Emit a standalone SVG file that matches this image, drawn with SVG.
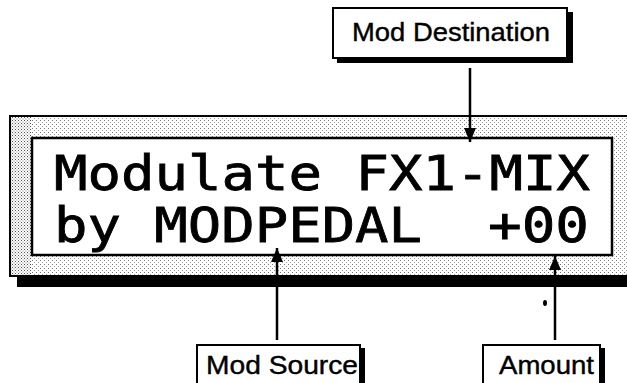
<svg xmlns="http://www.w3.org/2000/svg" width="627" height="383" viewBox="0 0 627 383">
  <defs>
    <pattern id="stip" width="4" height="4" patternUnits="userSpaceOnUse">
      <rect width="4" height="4" fill="#ffffff"/>
      <rect x="0" y="0" width="1" height="1" fill="#777"/>
      <rect x="2" y="2" width="1" height="1" fill="#999"/>
    </pattern>
    <pattern id="stipDense" width="3" height="3" patternUnits="userSpaceOnUse">
      <rect width="3" height="3" fill="#ffffff"/>
      <rect x="0" y="0" width="1" height="1" fill="#555"/>
      <rect x="1.5" y="1.5" width="1" height="1" fill="#777"/>
    </pattern>
    <marker id="ah" viewBox="0 0 14 12" refX="14" refY="6" markerWidth="14" markerHeight="12" markerUnits="userSpaceOnUse" orient="auto">
      <path d="M0,0 L14,6 L0,12 Z" fill="#000"/>
    </marker>
  </defs>
  <style>
    .lcd { font-family: "DejaVu Sans Mono", "Liberation Mono", monospace; font-size: 48px; fill: #000; stroke: #000; stroke-width: 0.8; }
    .lbl { font-family: "Liberation Sans", Arial, sans-serif; font-size: 26px; fill: #000; stroke: #000; stroke-width: 0.4; }
    .box { fill: #fff; stroke: #000; stroke-width: 2; }
    .shadow { fill: #000; }
    .conn { stroke: #000; stroke-width: 2.5; fill: none; marker-end: url(#ah); }
  </style>
  <rect width="627" height="383" fill="#fff"/>

  <g id="panel">
    <rect x="17" y="276" width="612" height="11" fill="#000"/>
    <rect x="10" y="116" width="620" height="160" fill="url(#stip)" stroke="#000" stroke-width="2"/>
    <rect x="11" y="117" width="20" height="158" fill="url(#stipDense)"/>
    <rect x="32" y="138" width="580" height="117" fill="#fff" stroke="#000" stroke-width="2.5"/>
    <text class="lcd" x="54" y="190" textLength="536" lengthAdjust="spacingAndGlyphs">Modulate FX1-MIX</text>
    <text class="lcd" x="54" y="242" textLength="368" lengthAdjust="spacingAndGlyphs">by MODPEDAL</text>
    <text class="lcd" x="488" y="242" textLength="101" lengthAdjust="spacingAndGlyphs">+00</text>
  </g>

  <g id="mod-destination">
    <rect class="shadow" x="337" y="12" width="236" height="51"/>
    <rect class="box" x="333" y="8" width="234" height="50"/>
    <text class="lbl" x="352" y="41" textLength="198" lengthAdjust="spacingAndGlyphs">Mod Destination</text>
  </g>

  <g id="mod-source">
    <rect class="shadow" x="200" y="348" width="165" height="45"/>
    <rect class="box" x="197" y="345" width="163" height="45"/>
    <text class="lbl" x="206" y="374" textLength="152" lengthAdjust="spacingAndGlyphs">Mod Source</text>
  </g>

  <g id="amount">
    <rect class="shadow" x="486" y="348" width="119" height="45"/>
    <rect class="box" x="483" y="345" width="117" height="45"/>
    <text class="lbl" x="499" y="374" textLength="95" lengthAdjust="spacingAndGlyphs">Amount</text>
  </g>

  <g id="connectors">
    <line class="conn" x1="470" y1="68" x2="470" y2="142"/>
    <line class="conn" x1="277" y1="340" x2="277" y2="248"/>
    <line class="conn" x1="555" y1="340" x2="555" y2="256"/>
    <ellipse cx="545" cy="303" rx="2" ry="3" fill="#000"/>
  </g>
</svg>
